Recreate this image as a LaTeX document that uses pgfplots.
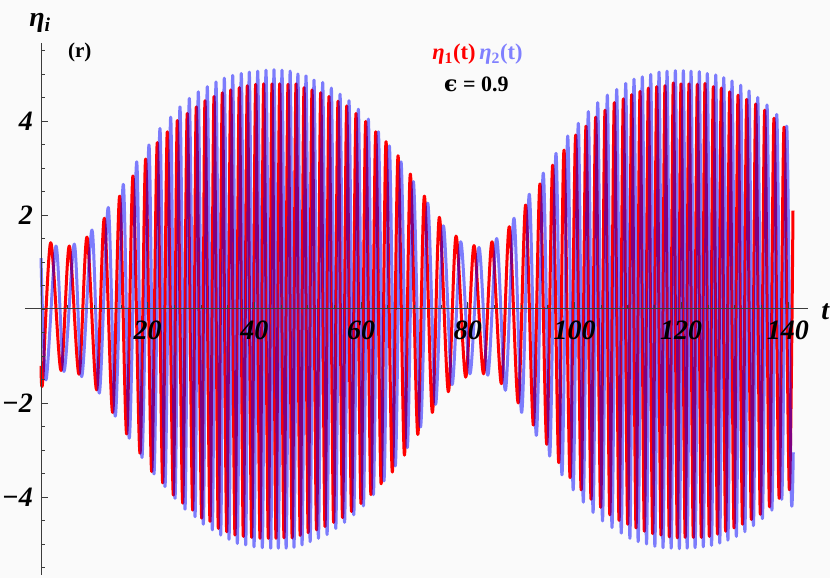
\documentclass[border=0pt]{standalone}
\usepackage{fontspec}
\setmainfont{Liberation Serif}
\newfontfamily\dvs{DejaVu Serif}
\usepackage{pgfplots}
\pgfplotsset{compat=1.18}
\usetikzlibrary{backgrounds}
\definecolor{bgc}{RGB}{250,250,250}
\definecolor{lblue}{RGB}{128,128,255}
\definecolor{axc}{RGB}{60,60,60}
\begin{document}
\begin{tikzpicture}
\begin{axis}[
 scale only axis, width=783.2pt, height=531.6pt,
 xmin=-3, xmax=143.8, ymin=-5.66, ymax=5.65,
 axis lines=middle, axis line style={-, axc, line width=1pt},
 axis on top,
 xtick={20,40,60,80,100,120,140}, xticklabels={20,40,60,80,100,120,140},
 ytick={-4,-2,2,4}, yticklabels={−4,−2,2,4},
 minor xtick={5,10,...,140}, minor ytick={-5.5,-5,...,5.5},
 tick align=inside, major tick length=7pt, minor tick length=4pt,
 every tick/.style={axc, line width=0.8pt},
 /pgf/number format/assume math mode=true,
 tick label style={font=\fontsize{28}{30}\selectfont\bfseries\itshape, inner sep=0pt},
 xticklabel style={anchor=north, yshift=-11.7pt},
 yticklabel style={anchor=east, xshift=-8pt},
 clip=false,
]
\coordinate (SW) at (rel axis cs:0,0);
\addplot[red, line width=3pt, smooth, line join=round] coordinates {
(0,-1.21) (0.31,-1.55) (1.82,1.41) (3.75,-1.31) (5.30,1.34) (7.12,-1.39) (8.62,1.53) (10.43,-1.72) (11.87,1.93) (13.43,-2.20) (14.75,2.40) (16.06,-2.66) (17.24,2.83) (18.56,-3.07) (19.62,3.19) (20.75,-3.46) (21.80,3.54) (22.81,-3.70) (23.68,3.77) (24.80,-3.96) (25.55,4.01) (26.56,-4.13) (27.42,4.16) (28.43,-4.28) (29.11,4.30) (30.12,-4.45) (30.74,4.43) (31.68,-4.52) (32.43,4.52) (33.24,-4.67) (33.99,4.60) (34.81,-4.74) (35.56,4.66) (36.36,-4.81) (37.17,4.71) (37.92,-4.84) (38.67,4.75) (39.49,-4.86) (40.24,4.78) (41.05,-4.88) (41.74,4.79) (42.61,-4.88) (43.30,4.79) (44.05,-4.88) (44.74,4.79) (45.55,-4.87) (46.30,4.78) (47.08,-4.87) (47.80,4.79) (48.58,-4.82) (49.30,4.71) (50.08,-4.76) (50.80,4.66) (51.65,-4.70) (52.43,4.60) (53.23,-4.63) (53.98,4.52) (54.85,-4.54) (55.67,4.42) (56.52,-4.44) (57.30,4.32) (58.20,-4.31) (59.04,4.16) (59.98,-4.14) (60.86,3.99) (61.84,-3.95) (62.74,3.77) (63.75,-3.72) (64.67,3.56) (65.85,-3.47) (66.92,3.26) (68.12,-3.11) (69.22,2.87) (70.62,-2.67) (71.85,2.40) (73.35,-2.20) (74.66,1.95) (76.35,-1.76) (77.79,1.55) (79.60,-1.45) (81.16,1.35) (82.95,-1.38) (84.54,1.43) (86.30,-1.59) (87.78,1.75) (89.45,-2.00) (90.85,2.21) (92.30,-2.47) (93.53,2.66) (94.80,-2.88) (95.91,3.06) (97.05,-3.27) (98.03,3.38) (99.18,-3.59) (100.22,3.70) (101.25,-3.85) (102.15,3.89) (103.10,-4.05) (103.97,4.08) (104.90,-4.22) (105.72,4.23) (106.62,-4.38) (107.46,4.39) (108.35,-4.50) (109.15,4.47) (109.97,-4.58) (110.72,4.56) (111.53,-4.66) (112.28,4.63) (113.09,-4.73) (113.84,4.70) (114.65,-4.78) (115.41,4.73) (116.21,-4.81) (116.96,4.75) (117.77,-4.85) (118.52,4.81) (119.27,-4.87) (119.96,4.79) (120.74,-4.86) (121.46,4.79) (122.27,-4.86) (123.02,4.78) (123.77,-4.86) (124.46,4.80) (125.27,-4.84) (126.02,4.73) (126.80,-4.79) (127.52,4.70) (128.33,-4.73) (129.09,4.62) (129.90,-4.66) (130.65,4.55) (131.49,-4.58) (132.28,4.46) (133.15,-4.48) (133.96,4.36) (134.83,-4.37) (135.65,4.23) (136.55,-4.21) (137.39,4.06) (138.36,-4.03) (139.27,3.87) (140.26,-3.84) (140.95,2.09)
};
\addplot[blue, draw opacity=0.5, line width=3pt, smooth, line join=round] coordinates {
(0,1.08) (0.94,-1.51) (2.81,1.34) (4.31,-1.33) (6.24,1.38) (7.63,-1.44) (9.56,1.68) (10.93,-1.79) (12.61,2.16) (13.93,-2.28) (15.43,2.65) (16.55,-2.75) (17.94,3.13) (18.93,-3.16) (20.24,3.49) (21.18,-3.51) (22.30,3.84) (23.24,-3.78) (24.31,4.08) (25.12,-4.03) (26.05,4.30) (26.99,-4.26) (27.80,4.48) (28.87,-4.42) (29.48,4.62) (30.42,-4.58) (31.17,4.73) (32.11,-4.70) (32.80,4.83) (33.68,-4.81) (34.36,4.91) (35.24,-4.90) (35.93,4.97) (36.80,-4.99) (37.54,5.01) (38.37,-5.02) (39.04,5.04) (39.93,-5.06) (40.62,5.06) (41.48,-5.08) (42.17,5.08) (43.06,-5.09) (43.67,5.09) (44.48,-5.09) (45.17,5.08) (45.95,-5.09) (46.70,5.06) (47.42,-5.07) (48.15,5.00) (48.93,-5.02) (49.67,4.96) (50.45,-4.95) (51.17,4.87) (52.00,-4.88) (52.80,4.82) (53.62,-4.80) (54.42,4.70) (55.25,-4.67) (56.05,4.57) (56.90,-4.54) (57.73,4.43) (58.62,-4.38) (59.48,4.25) (60.43,-4.19) (61.35,4.04) (62.30,-3.95) (63.23,3.77) (64.28,-3.66) (65.29,3.47) (66.40,-3.34) (67.48,3.13) (68.65,-2.95) (69.79,2.71) (71.13,-2.51) (72.48,2.25) (73.95,-2.03) (75.41,1.77) (77.05,-1.61) (78.67,1.43) (80.40,-1.38) (82.10,1.31) (83.75,-1.41) (85.42,1.50) (87.05,-1.73) (88.66,1.93) (90.10,-2.20) (91.53,2.44) (92.85,-2.69) (94.15,2.89) (95.35,-3.13) (96.53,3.31) (97.65,-3.53) (98.73,3.68) (99.75,-3.85) (100.71,3.95) (101.65,-4.11) (102.59,4.20) (103.48,-4.33) (104.35,4.39) (105.25,-4.51) (106.15,4.55) (107.03,-4.65) (107.91,4.67) (108.76,-4.77) (109.60,4.80) (110.38,-4.88) (111.15,4.89) (111.93,-4.95) (112.71,4.94) (113.50,-5.00) (114.28,4.99) (115.06,-5.05) (115.84,5.04) (116.59,-5.08) (117.34,5.06) (118.12,-5.09) (118.90,5.07) (119.65,-5.10) (120.40,5.07) (121.12,-5.09) (121.84,5.06) (122.60,-5.08) (123.39,5.05) (124.14,-5.06) (124.89,5.01) (125.68,-5.03) (126.47,4.98) (127.22,-4.98) (127.97,4.92) (128.75,-4.92) (129.52,4.85) (130.33,-4.84) (131.15,4.76) (131.93,-4.74) (132.71,4.64) (133.53,-4.61) (134.34,4.50) (135.21,-4.46) (136.08,4.34) (136.99,-4.28) (137.90,4.14) (138.84,-4.05) (139.77,3.89) (140.62,-3.92) (141.00,-3.05)
};
\node[anchor=base west, font=\fontsize{21}{21}\selectfont\bfseries] at (axis cs:4.4,5.34) {(r)};
\node[anchor=base, font=\fontsize{22.5}{22.5}\selectfont\bfseries] at (axis cs:81.8,5.30) {\textcolor{red}{\textit{η}\textsubscript{1}(t)}\,\textcolor{lblue}{\textit{η}\textsubscript{2}(t)}};
\node[anchor=base, font=\fontsize{22}{22}\selectfont\bfseries] at (axis cs:81.6,4.62) {{\dvs\bfseries ϵ} = 0.9};
\node[anchor=base, yshift=16.8pt, font=\fontsize{28}{28}\selectfont\bfseries\itshape] at (axis cs:-0.19,5.65) {η\textsubscript{i}};
\node[anchor=base west, xshift=9.7pt, yshift=-11pt, font=\fontsize{28}{28}\selectfont\bfseries\itshape] at (axis cs:143.8,0) {t};
\end{axis}
\begin{scope}[on background layer]
\fill[bgc] ([shift={(-25pt,-3pt)}]SW) rectangle ([shift={(805pt,575pt)}]SW);
\end{scope}
\pgfresetboundingbox
\path ([shift={(-25pt,-3pt)}]SW) rectangle ([shift={(805pt,575pt)}]SW);
\end{tikzpicture}
\end{document}
